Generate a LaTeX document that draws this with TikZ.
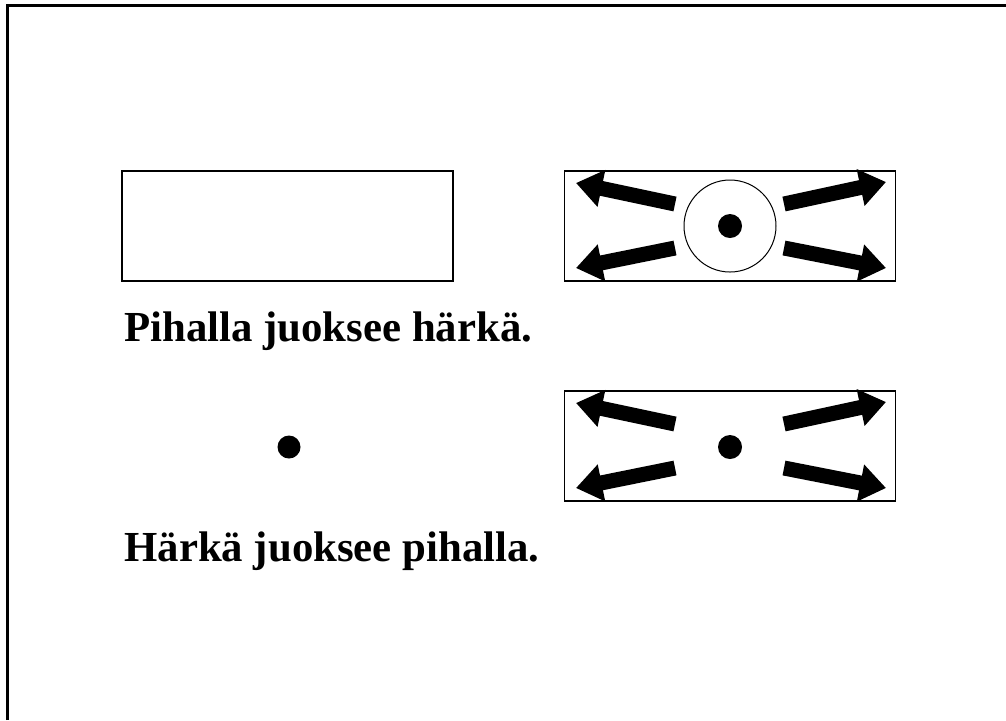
\documentclass[tikz,border=0pt]{standalone}
\usepackage{fontspec}
\setmainfont{Liberation Serif}
\usetikzlibrary{arrows.meta}
\begin{document}
\begin{tikzpicture}[x=0.5pt,y=-0.5pt,
  frame/.style={line width=1.5pt},
  panel/.style={draw,line width=0.7pt,minimum width=165.5pt,minimum height=55pt,inner sep=0pt},
  ring/.style={draw,circle,line width=0.5pt,minimum size=46pt,inner sep=0pt},
  blob/.style={fill,circle,minimum size=12pt,inner sep=0pt},
  fat/.style={line width=7.5pt,-{Triangle[length=13pt,width=18pt]}},
  caption/.style={anchor=base west,inner sep=0pt,font=\fontsize{21.4}{25}\selectfont\bfseries}]
\useasboundingbox (0,0) rectangle (1006,720);
\fill[white] (0,0) rectangle (1006,720);
\coordinate (fa) at (7,720);
\coordinate (fb) at (7,5);
\coordinate (fc) at (1006,5);
\draw[frame] (fa) -- (fb) -- (fc);
% top row
\node[panel] (r1) at (287.5,226) {};
\node[panel] (r2) at (730,226) {};
\node[ring] (c1) at (730,226) {};
\node[blob] (d1) at (730,226) {};
\coordinate (a1t) at (675,204);
\coordinate (a1h) at (576,183);
\coordinate (a2t) at (675,248);
\coordinate (a2h) at (576,268);
\coordinate (a3t) at (784,204);
\coordinate (a3h) at (886,182);
\coordinate (a4t) at (784,248);
\coordinate (a4h) at (886,268);
\foreach \t/\h in {a1t/a1h,a2t/a2h,a3t/a3h,a4t/a4h} \draw[fat] (\t) -- (\h);
\node[caption] (t1) at (124,341) {Pihalla juoksee härkä.};
% bottom row
\node[blob,minimum size=11.5pt] (d2) at (289,447) {};
\node[panel] (r3) at (730,446) {};
\node[blob] (d3) at (730,447) {};
\coordinate (b1t) at (675,424);
\coordinate (b1h) at (576,403);
\coordinate (b2t) at (675,468);
\coordinate (b2h) at (576,488);
\coordinate (b3t) at (784,424);
\coordinate (b3h) at (886,402);
\coordinate (b4t) at (784,468);
\coordinate (b4h) at (886,488);
\foreach \t/\h in {b1t/b1h,b2t/b2h,b3t/b3h,b4t/b4h} \draw[fat] (\t) -- (\h);
\node[caption] (t2) at (124,561) {Härkä juoksee pihalla.};
\end{tikzpicture}
\end{document}
